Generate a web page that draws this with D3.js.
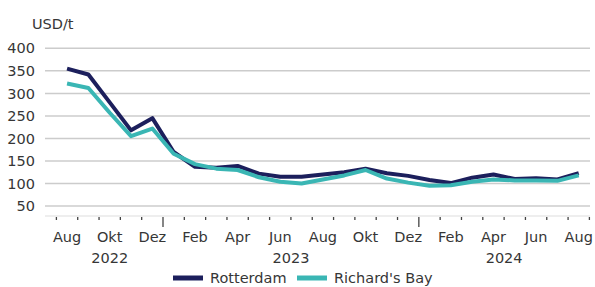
<!DOCTYPE html>
<html>
<head>
<meta charset="utf-8">
<script src="https://cdn.jsdelivr.net/npm/d3@7"></script>
<style>
  body { margin: 0; background: #fff; }
  text { font-family: "DejaVu Sans", sans-serif; fill: #363636; }
</style>
</head>
<body>
<div id="chart"></div>
<script>
// data
const periods = [
    '2022-08', '2022-09', '2022-10', '2022-11', '2022-12',
    '2023-01', '2023-02', '2023-03', '2023-04', '2023-05', '2023-06',
    '2023-07', '2023-08', '2023-09', '2023-10', '2023-11', '2023-12',
    '2024-01', '2024-02', '2024-03', '2024-04', '2024-05', '2024-06',
    '2024-07', '2024-08'
];
const monthNames = ['Jan', 'Feb', 'Mär', 'Apr', 'Mai', 'Jun', 'Jul', 'Aug', 'Sep', 'Okt', 'Nov', 'Dez'];
const rotterdam = [355, 342, 280, 218, 245, 170, 137, 135, 139, 122, 115, 115, 120,
    125, 133, 123, 117, 108, 101, 113, 120, 110, 112, 109, 123];
const richardsBay = [322, 312, 257, 205, 222, 166, 143, 133, 130, 114, 104, 100, 109,
    118, 130, 111, 102, 95, 96, 104, 109, 107, 107, 106, 118];
const yTicks = [50, 100, 150, 200, 250, 300, 350, 400];
const years = ['2022', '2023', '2024'];
const seriesNames = ['Rotterdam', "Richard's Bay"];
const colors = ['#1c1f5c', '#3ab6b4'];

const width = 595;
const height = 287;
const fontSize = 14.5;

const svg = d3.select('#chart')
    .append('svg')
    .attr('width', width)
    .attr('height', height);

// scales
const x = d3.scaleBand()
    .domain(periods)
    .range([56.4, 589.4]);

const y = d3.scaleLinear()
    .domain([28, 400])
    .range([216, 48.3]);

const gridLeft = 45;
const gridRight = 590;

// gridlines
svg.append('g')
    .selectAll('line')
    .data(yTicks)
    .enter()
    .append('line')
    .attr('x1', gridLeft)
    .attr('x2', gridRight)
    .attr('y1', d => y(d))
    .attr('y2', d => y(d))
    .attr('stroke', '#cccccc')
    .attr('stroke-width', 1.5);

// y axis labels
const yAxis = d3.axisLeft(y)
    .tickValues(yTicks)
    .tickSize(0)
    .tickPadding(0);

const yAxisGroup = svg.append('g')
    .attr('transform', 'translate(35, 0)')
    .call(yAxis);
yAxisGroup.select('.domain').remove();
yAxisGroup.selectAll('text')
    .attr('font-size', fontSize)
    .attr('font-family', '"DejaVu Sans", sans-serif')
    .attr('fill', '#363636');

// unit
svg.append('text')
    .attr('x', 32)
    .attr('y', 29)
    .attr('font-size', fontSize)
    .text('USD/t');

// x axis line
svg.append('line')
    .attr('x1', gridLeft)
    .attr('x2', gridRight)
    .attr('y1', y.range()[0])
    .attr('y2', y.range()[0])
    .attr('stroke', '#dddddd')
    .attr('stroke-width', 1);

// month ticks (between categories)
const edges = d3.range(periods.length + 1);
svg.append('g')
    .selectAll('line')
    .data(edges)
    .enter()
    .append('line')
    .attr('x1', i => x.range()[0] + i * x.step())
    .attr('x2', i => x.range()[0] + i * x.step())
    .attr('y1', y.range()[0] + 1)
    .attr('y2', i => {
        const isYear = i > 0 && i < periods.length && periods[i].endsWith('-01');
        return y.range()[0] + (isYear ? 11 : 4);
    })
    .attr('stroke', '#444')
    .attr('stroke-width', 1.3);

// month labels, every second month
const xAxis = d3.axisBottom(x)
    .tickValues(periods.filter((d, i) => i % 2 === 0))
    .tickSize(0)
    .tickPadding(0)
    .tickFormat(d => monthNames[+d.slice(5) - 1]);

const xAxisGroup = svg.append('g')
    .attr('transform', `translate(0, ${y.range()[0] + 16})`)
    .call(xAxis);
xAxisGroup.select('.domain').remove();
xAxisGroup.selectAll('text')
    .attr('font-size', fontSize)
    .attr('font-family', '"DejaVu Sans", sans-serif')
    .attr('fill', '#363636');

// year labels
svg.append('g')
    .selectAll('text')
    .data(years)
    .enter()
    .append('text')
    .attr('x', yr => {
        const inYear = periods.filter(p => p.startsWith(yr));
        return (x(inYear[0]) + x(inYear[inYear.length - 1]) + x.bandwidth()) / 2;
    })
    .attr('y', 263)
    .attr('text-anchor', 'middle')
    .attr('font-size', fontSize)
    .text(yr => yr);

// lines
const line = d3.line()
    .x((d, i) => x(periods[i]) + x.bandwidth() / 2)
    .y(d => y(d));

svg.append('g')
    .selectAll('path')
    .data([rotterdam, richardsBay])
    .enter()
    .append('path')
    .attr('d', line)
    .attr('fill', 'none')
    .attr('stroke', (d, i) => colors[i])
    .attr('stroke-width', 4)
    .attr('stroke-linejoin', 'round');

// legend
const legendX = [173, 297];
const legend = svg.append('g')
    .selectAll('g')
    .data(seriesNames)
    .enter()
    .append('g')
    .attr('transform', (d, i) => `translate(${legendX[i]}, 278)`);

legend.append('line')
    .attr('x1', 0)
    .attr('x2', 30)
    .attr('stroke', (d, i) => colors[i])
    .attr('stroke-width', 5);

legend.append('text')
    .attr('x', 37)
    .attr('y', 5)
    .attr('font-size', fontSize)
    .text(d => d);
</script>
</body>
</html>
